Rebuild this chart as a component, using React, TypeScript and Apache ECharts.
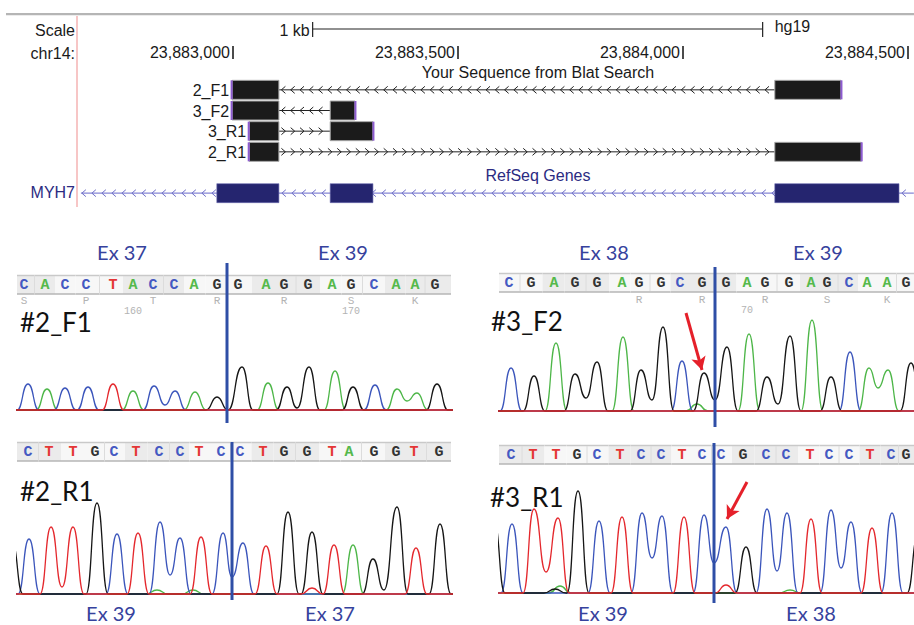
import React, { useEffect, useRef } from 'react';
import * as echarts from 'echarts';

// ================= Genome browser (UCSC) data =================
const rulerTicks = [23883000, 23883500, 23884000, 23884500];
const scaleBarBp = [23883177, 23884177];
const scaleBarLabel = '1 kb';
const assemblyLabel = 'hg19';
const chromLabel = 'chr14:';
const blatTrackTitle = 'Your Sequence from Blat Search';
const refseqTrackTitle = 'RefSeq Genes';
const trackRows = ['2_F1', '3_F2', '3_R1', '2_R1', 'RefSeq Genes', 'MYH7'];
const blatStrand = [-1, -1, 1, 1];
// [start, row, end]
const blatBlocks = [
  [23882998, 0, 23883102], [23884204, 0, 23884351],
  [23882998, 1, 23883102], [23883216, 1, 23883271],
  [23883036, 2, 23883102], [23883216, 2, 23883311],
  [23883036, 3, 23883102], [23884204, 3, 23884396],
];
const geneName = 'MYH7';
const geneStrand = -1;
const refseqSpan = [23882662, 23884513];
const myh7Exons = [[23882964, 23883102], [23883216, 23883311], [23884204, 23884480]];

// ================= Chromatogram data =================
const sampleNames = ['#2_F1', '#3_F2', '#2_R1', '#3_R1'];
const exonLabels = [['Ex 37', 'Ex 39'], ['Ex 38', 'Ex 39'], ['Ex 39', 'Ex 37'], ['Ex 39', 'Ex 38']];
const sequences = [
  'CACCTACCAGGAGGAGCAAG',
  'CGAGGAGGCGGAGGAGCAAG',
  'CTTGCTCCTCCTGGTAGGTG',
  'CTTGCTCCTCCGCCTCCTCG',
];
const basePositions = [
  [24, 45, 65, 86, 113, 133, 153, 174, 194, 217, 238, 266, 284, 308, 332, 351, 374, 396, 415, 435],
  [509, 531, 554, 575, 597, 622, 639, 661, 680, 702, 726, 747, 765, 789, 811, 827, 849, 867, 887, 906],
  [28, 49, 73, 95, 114, 136, 159, 180, 199, 221, 240, 263, 284, 307, 332, 349, 374, 396, 414, 439],
  [511, 533, 556, 577, 597, 620, 641, 661, 682, 702, 721, 743, 766, 786, 810, 829, 849, 870, 891, 906],
];
const aminoAcids: [string, number][][] = [
  [['S', 0], ['P', 3], ['T', 6], ['R', 9], ['R', 12], ['S', 15], ['K', 18]],
  [['R', 6], ['R', 9], ['R', 12], ['S', 15], ['K', 18]],
  [],
  [],
];
const baseNumbers: [string, number][][] = [
  [['160', 5], ['170', 15]],
  [['70', 11]],
  [],
  [],
];
const junctions = [227, 715, 232, 714];
const arrowsFromTo = [null, [[686, 99], [702, 42]], null, [[747, 112], [727, 75]]];

// peaks: [position, height]; valleys between same-colour peaks: [position, height]
const p1A = [[47, 22], [133, 20], [195, 19], [268, 28], [335, 40], [397, 22], [417, 18]];
const p1AV = [[407, 10]];
const p1C = [[28, 27], [65, 23], [88, 24], [154, 25], [175, 20], [375, 26]];
const p1CV = [[165, 6]];
const p1G = [[217, 14], [242, 44], [287, 24], [309, 44], [353, 24], [437, 27]];
const p1GV = [[228, 1], [297, 3]];
const p1T = [[113, 27]];
const p1TV: number[][] = [];

const p2A = [[556, 69], [623, 75], [697, 8], [749, 78], [812, 92], [869, 44], [888, 42]];
const p2AV = [[878, 24]];
const p2C = [[511, 44], [682, 51], [850, 60]];
const p2CV: number[][] = [];
const p2G = [[534, 36], [575, 38], [597, 50], [641, 42], [663, 85], [704, 39], [727, 65], [767, 35], [790, 76], [831, 35], [911, 49]];
const p2GV = [[586, 14], [652, 12], [715, 12], [778, 8]];
const p2T: number[][] = [];
const p2TV: number[][] = [];

const p3A = [[157, 5], [193, 5], [353, 50]];
const p3AV: number[][] = [];
const p3C = [[29, 56], [117, 61], [160, 73], [180, 57], [223, 62], [243, 52]];
const p3CV = [[170, 20], [232, 18]];
const p3G = [[12, 52], [97, 92], [288, 83], [312, 63], [373, 36], [397, 88], [440, 71]];
const p3GV = [[384, 5]];
const p3T = [[51, 68], [73, 68], [138, 62], [201, 58], [266, 49], [312, 7], [334, 50], [416, 47]];
const p3TV = [[62, 8]];

const p4A = [[560, 8], [790, 4]];
const p4AV: number[][] = [];
const p4C = [[512, 70], [599, 73], [642, 81], [662, 78], [704, 79], [726, 67], [767, 85], [787, 81], [831, 84], [851, 72], [892, 81]];
const p4CV = [[652, 36], [714, 31], [777, 23], [841, 26]];
const p4G = [[494, 72], [555, 5], [578, 103], [746, 47], [918, 58]];
const p4GV: number[][] = [];
const p4T = [[534, 85], [558, 76], [622, 77], [684, 77], [726, 9], [811, 75], [872, 66]];
const p4TV = [[546, 22]];

const tracePeaks = [
  { A: [p1A, p1AV], C: [p1C, p1CV], G: [p1G, p1GV], T: [p1T, p1TV] },
  { A: [p2A, p2AV], C: [p2C, p2CV], G: [p2G, p2GV], T: [p2T, p2TV] },
  { A: [p3A, p3AV], C: [p3C, p3CV], G: [p3G, p3GV], T: [p3T, p3TV] },
  { A: [p4A, p4AV], C: [p4C, p4CV], G: [p4G, p4GV], T: [p4T, p4TV] },
];

// ================= Layout / style =================
const UCSC_FONT = '16px "Liberation Sans", Arial, sans-serif';
const LBL_FONT_FAMILY = 'Lato, "Open Sans", sans-serif';
const SEQ_FONT = 'bold 15px "Liberation Mono", "DejaVu Sans Mono", monospace';
const AA_FONT = '11px "Liberation Mono", "DejaVu Sans Mono", monospace';
const TRACE_COLORS: Record<string, string> = { A: '#4db648', C: '#3b55bb', G: '#161616', T: '#e4282d' };
const LETTER_COLORS: Record<string, string> = { A: '#55b94c', C: '#4559c2', G: '#333333', T: '#e43636' };
const NAVY = '#2b2b82';
const EX_COLOR = '#36429d';
const TRACE_H = 125;
const BAR_H = 19;
const panelLayout = [
  { left: 17, right: 451, baseline: 411, barTop: 275, lineTop: 263, lineBottom: 423, aaY: 301, numY: 311, nameX: 20, nameY: 322, exY: 252, exX: [122, 343], shadeStart: 0 },
  { left: 499, right: 914, baseline: 412, barTop: 273, lineTop: 267, lineBottom: 427, aaY: 300, numY: 310, nameX: 491, nameY: 321, exY: 252, exX: [604, 818], shadeStart: 1 },
  { left: 17, right: 451, baseline: 595, barTop: 442, lineTop: 442, lineBottom: 600, aaY: 0, numY: 0, nameX: 20, nameY: 491, exY: 613, exX: [111, 330], shadeStart: 0 },
  { left: 499, right: 914, baseline: 594, barTop: 445, lineTop: 443, lineBottom: 603, aaY: 0, numY: 0, nameX: 490, nameY: 497, exY: 613, exX: [603, 811], shadeStart: 0 },
];

const HW = 11;
function buildTrace(peaks: number[][], valleys: number[][], xmin: number, xmax: number): number[][] {
  type P = { x: number; y: number; v: boolean };
  const pts: P[] = peaks
    .map((p) => ({ x: p[0], y: p[1], v: false }))
    .concat(valleys.map((p) => ({ x: p[0], y: p[1], v: true })))
    .sort((a, b) => a.x - b.x);
  const out: number[][] = [[xmin - 30, 1]];
  const push = (x: number, y: number) => {
    if (x > out[out.length - 1][0]) out.push([x, y]);
  };
  pts.forEach((c, i) => {
    const pr = pts[i - 1];
    const nx = pts[i + 1];
    if (!c.v && !(pr && pr.v)) push(pr ? Math.max(c.x - HW, (pr.x + c.x) / 2) : c.x - HW, 1);
    push(c.x, c.y);
    if (!c.v && !(nx && nx.v)) push(nx ? Math.min(c.x + HW, (nx.x + c.x) / 2) : c.x + HW, 1);
  });
  push(xmax + 30, 1);
  return out;
}

function txt(x: number, y: number, text: string, font: string, fill: string, align = 'left', valign = 'middle', extra: any = {}) {
  return {
    type: 'text',
    x,
    y,
    silent: true,
    style: { text, font, fill, align, textAlign: align, verticalAlign: valign, textVerticalAlign: valign },
    ...extra,
  };
}

function chevrons(x1: number, x2: number, y: number, dir: number, step: number, color: string, offset: number) {
  const out: any[] = [];
  const w = 2;
  const h = 3.5;
  for (let cx = x1 + offset; cx < x2 - 2; cx += step) {
    out.push({
      type: 'polyline',
      shape: { points: [[cx - dir * w, y - h], [cx + dir * w, y], [cx - dir * w, y + h]] },
      style: { stroke: color, fill: 'none', lineWidth: 1 },
    });
  }
  return out;
}

function buildOption() {
  const grids: any[] = [{ left: 233, top: 79.5, width: 675, height: 124 }];
  const xAxes: any[] = [{ type: 'value', gridIndex: 0, min: rulerTicks[0], max: rulerTicks[rulerTicks.length - 1], show: false }];
  const yAxes: any[] = [{ type: 'category', gridIndex: 0, data: trackRows, inverse: true, show: false }];
  panelLayout.forEach((L, k) => {
    grids.push({ left: L.left, top: L.baseline - TRACE_H, width: L.right - L.left, height: TRACE_H });
    xAxes.push({ type: 'value', gridIndex: k + 1, min: L.left, max: L.right, show: false });
    yAxes.push({ type: 'value', gridIndex: k + 1, min: 0, max: TRACE_H, show: false });
  });

  const series: any[] = [];

  // ruler
  series.push({
    type: 'custom',
    xAxisIndex: 0,
    yAxisIndex: 0,
    clip: false,
    silent: true,
    data: rulerTicks.map((t) => [t, 0]),
    encode: { x: 0, y: 1 },
    renderItem: (params: any, api: any) => {
      const v = api.value(0);
      const x = api.coord([v, 0])[0];
      return {
        type: 'group',
        children: [
          txt(x - 3, 52.5, v.toLocaleString('en-US'), UCSC_FONT, '#1a1a1a', 'right'),
          { type: 'rect', shape: { x: x - 0.75, y: 46, width: 1.5, height: 13 }, style: { fill: '#111' } },
        ],
      };
    },
  });

  // scale bar
  series.push({
    type: 'custom',
    xAxisIndex: 0,
    yAxisIndex: 0,
    clip: false,
    silent: true,
    data: [[scaleBarBp[0], 0, scaleBarBp[1]]],
    encode: { x: 0, y: 1 },
    renderItem: (params: any, api: any) => {
      const x1 = api.coord([api.value(0), 0])[0];
      const x2 = api.coord([api.value(2), 0])[0];
      const y = 29;
      return {
        type: 'group',
        children: [
          { type: 'line', shape: { x1, y1: y, x2, y2: y }, style: { stroke: '#222', lineWidth: 1.2 } },
          { type: 'line', shape: { x1, y1: y - 7, x2: x1, y2: y + 8 }, style: { stroke: '#222', lineWidth: 1.2 } },
          { type: 'line', shape: { x1: x2, y1: y - 7, x2: x2, y2: y + 8 }, style: { stroke: '#222', lineWidth: 1.2 } },
          txt(x1 - 3, 30, scaleBarLabel, UCSC_FONT, '#1a1a1a', 'right'),
          txt(x2 + 12, 26, assemblyLabel, UCSC_FONT, '#1a1a1a', 'left'),
        ],
      };
    },
  });

  // blat intron lines
  const blatIntrons = [0, 1, 2, 3].map((r) => {
    const bl = blatBlocks.filter((b) => b[1] === r).sort((a, b) => a[0] - b[0]);
    return [bl[0][2], r, bl[bl.length - 1][0], blatStrand[r]];
  });
  series.push({
    type: 'custom',
    xAxisIndex: 0,
    yAxisIndex: 0,
    clip: false,
    silent: true,
    data: blatIntrons,
    encode: { x: 0, y: 1 },
    renderItem: (params: any, api: any) => {
      const p1 = api.coord([api.value(0), api.value(1)]);
      const x2 = api.coord([api.value(2), api.value(1)])[0];
      const y = p1[1];
      return {
        type: 'group',
        children: [
          { type: 'line', shape: { x1: p1[0], y1: y, x2, y2: y }, style: { stroke: '#222', lineWidth: 1 } },
          ...chevrons(p1[0], x2, y, api.value(3), 9.3, '#222', 4.5),
        ],
      };
    },
  });

  // blat blocks
  series.push({
    type: 'custom',
    xAxisIndex: 0,
    yAxisIndex: 0,
    clip: false,
    silent: true,
    data: blatBlocks,
    encode: { x: 0, y: 1 },
    renderItem: (params: any, api: any) => {
      const row = api.value(1);
      const p1 = api.coord([api.value(0), row]);
      const x2 = api.coord([api.value(2), row])[0];
      const y = p1[1] - BAR_H / 2;
      const idx = params.dataIndex;
      const rowIdx = blatBlocks.map((b, i) => [b, i] as [number[], number]).filter(([b]) => b[1] === row).map(([, i]) => i);
      const first = rowIdx[0] === idx;
      const last = rowIdx[rowIdx.length - 1] === idx;
      const children: any[] = [
        { type: 'rect', shape: { x: p1[0], y, width: x2 - p1[0], height: BAR_H }, style: { fill: '#1b1b1b', stroke: '#a8a8a8', lineWidth: 1 } },
      ];
      if (first) {
        children.push({ type: 'rect', shape: { x: p1[0] - 1.5, y, width: 2, height: BAR_H }, style: { fill: '#8d5bd0' } });
        children.push(txt(p1[0] - 3, p1[1] + 0.5, trackRows[row], UCSC_FONT, '#1a1a1a', 'right'));
      }
      if (last) {
        children.push({ type: 'rect', shape: { x: x2 - 0.5, y, width: 2, height: BAR_H }, style: { fill: '#8d5bd0' } });
      }
      return { type: 'group', children };
    },
  });

  // refseq line
  series.push({
    type: 'custom',
    xAxisIndex: 0,
    yAxisIndex: 0,
    clip: false,
    silent: true,
    data: [[refseqSpan[0], 5, refseqSpan[1], geneStrand]],
    encode: { x: 0, y: 1 },
    renderItem: (params: any, api: any) => {
      const p1 = api.coord([api.value(0), api.value(1)]);
      const x2 = api.coord([api.value(2), api.value(1)])[0];
      const y = p1[1];
      return {
        type: 'group',
        children: [
          { type: 'line', shape: { x1: p1[0], y1: y, x2, y2: y }, style: { stroke: '#8686d6', lineWidth: 1.2 } },
          ...chevrons(p1[0], x2, y, api.value(3), 10, '#7070c8', 3),
        ],
      };
    },
  });

  // refseq exons
  series.push({
    type: 'custom',
    xAxisIndex: 0,
    yAxisIndex: 0,
    clip: false,
    silent: true,
    data: myh7Exons.map((e) => [e[0], 5, e[1]]),
    encode: { x: 0, y: 1 },
    renderItem: (params: any, api: any) => {
      const p1 = api.coord([api.value(0), api.value(1)]);
      const x2 = api.coord([api.value(2), api.value(1)])[0];
      return {
        type: 'rect',
        shape: { x: p1[0], y: p1[1] - BAR_H / 2, width: x2 - p1[0], height: BAR_H },
        style: { fill: '#25256f', stroke: '#6a6ab0', lineWidth: 0.6 },
      };
    },
  });

  // chromatogram panels
  panelLayout.forEach((L, k) => {
    const ax = k + 1;
    const seq = sequences[k];
    const pos = basePositions[k];
    const aaMap = new Map(aminoAcids[k].map(([a, i]) => [i, a]));
    const numMap = new Map(baseNumbers[k].map(([n, i]) => [i, n]));

    // sequence bar
    series.push({
      type: 'custom',
      xAxisIndex: ax,
      yAxisIndex: ax,
      clip: false,
      silent: true,
      z: 3,
      data: pos.map((p, i) => [p, 0, i]),
      encode: { x: 0, y: 1 },
      renderItem: (params: any, api: any) => {
        const i = api.value(2);
        const cs = params.coordSys;
        const x = api.coord([api.value(0), 0])[0];
        const px = (j: number) => api.coord([pos[j], 0])[0];
        const left = i === 0 ? cs.x : (x + px(i - 1)) / 2;
        const right = i === pos.length - 1 ? cs.x + cs.width : (x + px(i + 1)) / 2;
        const codon = Math.floor((i + 1) / 3);
        const gray = (codon + L.shadeStart) % 2 === 0;
        const children: any[] = [
          { type: 'rect', shape: { x: left, y: L.barTop, width: right - left, height: BAR_H }, style: { fill: gray ? '#ebebeb' : '#f7f7f7' } },
          { type: 'line', shape: { x1: left, y1: L.barTop + 0.5, x2: right, y2: L.barTop + 0.5 }, style: { stroke: '#c9c9c9', lineWidth: 1.5 } },
          { type: 'line', shape: { x1: left, y1: L.barTop + BAR_H, x2: right, y2: L.barTop + BAR_H }, style: { stroke: '#b6b6b6', lineWidth: 1.5 } },
        ];
        if ((i + 1) % 3 === 2 && i > 0) {
          children.push({ type: 'line', shape: { x1: left, y1: L.barTop + 1, x2: left, y2: L.barTop + BAR_H - 1 }, style: { stroke: '#dcdcdc', lineWidth: 1 } });
        }
        const ch = seq[i];
        children.push(txt(x, L.barTop + BAR_H / 2 + 1, ch, SEQ_FONT, LETTER_COLORS[ch], 'center'));
        if (aaMap.has(i)) children.push(txt(x, L.aaY, aaMap.get(i) as string, AA_FONT, '#b3b3b3', 'center'));
        if (numMap.has(i)) children.push(txt(x, L.numY, numMap.get(i) as string, '10px "Liberation Mono", monospace', '#b3b3b3', 'center'));
        return { type: 'group', children };
      },
    });

    // traces
    (['A', 'C', 'G', 'T'] as const).forEach((b) => {
      const [pk, vl] = (tracePeaks[k] as any)[b];
      const s: any = {
        type: 'line',
        xAxisIndex: ax,
        yAxisIndex: ax,
        data: buildTrace(pk, vl, L.left, L.right),
        smooth: 0.55,
        smoothMonotone: 'x',
        symbol: 'none',
        showSymbol: false,
        silent: true,
        clip: true,
        z: 2,
        lineStyle: { color: TRACE_COLORS[b], width: 1.3 },
      };
      const arr = arrowsFromTo[k];
      if (b === 'T' && arr) {
        s.markLine = {
          silent: true,
          animation: false,
          symbol: ['none', 'arrow'],
          symbolSize: [11, 13],
          label: { show: false },
          lineStyle: { color: '#e5202a', width: 3, type: 'solid' },
          data: [[{ coord: arr[0] }, { coord: arr[1] }]],
        };
      }
      series.push(s);
    });

    // junction line
    series.push({
      type: 'custom',
      xAxisIndex: ax,
      yAxisIndex: ax,
      clip: false,
      silent: true,
      z: 5,
      data: [[junctions[k], 0]],
      encode: { x: 0, y: 1 },
      renderItem: (params: any, api: any) => {
        const x = api.coord([api.value(0), 0])[0];
        return { type: 'line', shape: { x1: x, y1: L.lineTop, x2: x, y2: L.lineBottom }, style: { stroke: '#2f4ea6', lineWidth: 3 } };
      },
    });
  });

  // graphic annotations
  const graphic: any[] = [
    { type: 'rect', shape: { x: 6, y: 13, width: 908, height: 2.2 }, style: { fill: '#b5b5b5' }, silent: true },
    { type: 'line', shape: { x1: 77, y1: 16, x2: 77, y2: 207 }, style: { stroke: '#f4b3b3', lineWidth: 1.5 }, silent: true },
    txt(75, 30, 'Scale', UCSC_FONT, '#1a1a1a', 'right'),
    txt(75, 53, chromLabel, UCSC_FONT, '#1a1a1a', 'right'),
    txt(538, 72, blatTrackTitle, UCSC_FONT, '#1a1a1a', 'center'),
    txt(538, 175, refseqTrackTitle, UCSC_FONT, NAVY, 'center'),
    txt(75, 192.5, geneName, UCSC_FONT, NAVY, 'right'),
  ];
  panelLayout.forEach((L, k) => {
    graphic.push(txt(L.nameX, L.nameY, sampleNames[k], '26px ' + LBL_FONT_FAMILY, '#111', 'left'));
    exonLabels[k].forEach((lab, j) => {
      graphic.push(txt(L.exX[j], L.exY, lab, '20px ' + LBL_FONT_FAMILY, EX_COLOR, 'center'));
    });
  });

  return {
    animation: false,
    backgroundColor: '#ffffff',
    grid: grids,
    xAxis: xAxes,
    yAxis: yAxes,
    series,
    graphic,
  };
}

export default function App() {
  const ref = useRef<HTMLDivElement>(null);
  useEffect(() => {
    if (!ref.current) return;
    const chart = echarts.init(ref.current, undefined, { renderer: 'svg' });
    chart.setOption(buildOption() as any);
    return () => chart.dispose();
  }, []);
  return <div ref={ref} style={{ position: 'absolute', left: 0, top: 0, width: 914, height: 625 }} />;
}
